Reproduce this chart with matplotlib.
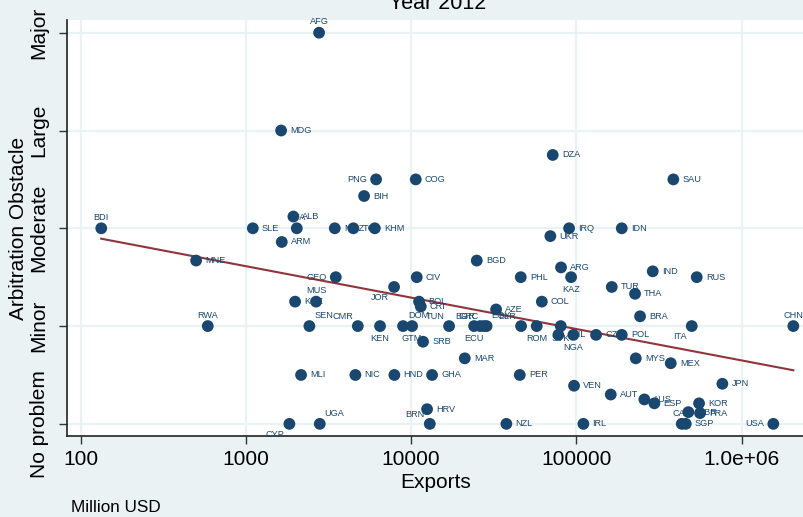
import numpy as np
import matplotlib
matplotlib.use("Agg")
import matplotlib.pyplot as plt

plt.rcParams['font.family'] = ['Liberation Sans', 'DejaVu Sans']

# Country codes, exports (million USD) and mean arbitration-obstacle score
codes = ["AFG", "MDG", "BDI", "SLE", "BFA", "ALB", "ARM", "PNG", "COG", "BIH",
         "MOZ", "TCD", "KHM", "DZA", "SAU", "IRQ", "IDN", "UKR", "MNE", "RWA",
         "GEO", "KGZ", "MUS", "SEN", "CMR", "KEN", "DOM", "GTM", "TUN", "ECU",
         "BGR", "GRC", "EGY", "BLR", "ROM", "SVK", "CHL", "NGA", "CZE", "POL",
         "ITA", "CHN", "ARG", "KAZ", "IND", "RUS", "TUR", "THA", "COL", "BRA",
         "MYS", "MEX", "JPN", "VEN", "AUT", "AUS", "ESP", "KOR", "GBR", "FRA",
         "CAN", "SGP", "USA", "IRL", "BGD", "CIV", "PHL", "JOR", "BOL", "CRI",
         "AZE", "MAR", "SRB", "MLI", "NIC", "HND", "GHA", "PER", "HRV", "BRN",
         "UGA", "NZL", "CYP"]

exports = [2770, 1632, 133, 1100, 2030, 1936, 1647, 6131, 10660, 5188,
           3447, 4467, 6021, 71940, 386500, 90360, 188300, 69600, 499, 587,
           3496, 1983, 2657, 2420, 4752, 6480, 8932, 10130, 16960, 24040,
           26140, 27600, 28600, 46270, 57540, 80430, 77800, 95900, 131600, 188300,
           499500, 2058000, 80770, 92900, 290000, 535500, 163800, 226600, 61800, 243000,
           228900, 372700, 765300, 96830, 161500, 258000, 296700, 553000, 476400, 560800,
           434500, 459400, 1557000, 110300, 24950, 10810, 46070, 7879, 11160, 11430,
           32660, 21110, 11800, 2155, 4594, 7912, 13380, 45440, 12480, 12960,
           2797, 37700, 1831]

obstacle = [5.0, 4.0, 3.0, 3.0, 3.0, 3.12, 2.86, 3.5, 3.5, 3.33,
            3.0, 3.0, 3.0, 3.75, 3.5, 3.0, 3.0, 2.92, 2.67, 2.0,
            2.5, 2.25, 2.25, 2.0, 2.0, 2.0, 2.0, 2.0, 2.0, 2.0,
            2.0, 2.0, 2.0, 2.0, 2.0, 2.0, 1.91, 1.91, 1.91, 1.91,
            2.0, 2.0, 2.6, 2.5, 2.56, 2.5, 2.4, 2.33, 2.25, 2.1,
            1.67, 1.62, 1.41, 1.39, 1.3, 1.25, 1.21, 1.21, 1.12, 1.11,
            1.0, 1.0, 1.0, 1.0, 2.67, 2.5, 2.5, 2.4, 2.25, 2.2,
            2.17, 1.67, 1.84, 1.5, 1.5, 1.5, 1.5, 1.5, 1.15, 1.0,
            1.0, 1.0, 1.0]

# Label placement as clock positions (default 3 o'clock)
label_pos = {"AFG": 12, "BDI": 12, "RWA": 12, "BFA": 12, "MUS": 12, "CAN": 12,
             "CHN": 12, "PNG": 9, "GEO": 9, "USA": 9, "KAZ": 6, "KEN": 6,
             "ECU": 6, "ROM": 6, "SVK": 6, "NGA": 6, "GTM": 6, "JOR": 7,
             "CYP": 7, "ITA": 7, "CMR": 11, "TUN": 11, "BGR": 11, "GRC": 11,
             "BLR": 11, "BRN": 11, "SEN": 1, "DOM": 1, "EGY": 1, "UGA": 1}

level_names = ["No problem", "Minor", "Moderate", "Large", "Major"]
level_values = [1, 2, 3, 4, 5]
x_ticks = [100, 1000, 10000, 100000, 1000000]
x_tick_labels = ["100", "1000", "10000", "100000", "1.0e+06"]

navy = "#1A476F"
maroon = "#90353B"
bg = "#EAF2F3"

fig = plt.figure(figsize=(8.04, 5.17), dpi=100, facecolor=bg)
ax = fig.add_axes([0.083, 0.1567, 0.917, 0.8046])
ax.set_facecolor("white")

ax.set_xscale("log")
ax.set_xlim(82.2, 2.388e6)
ax.set_ylim(0.876, 5.13)

ax.grid(True, which="major", color=bg, linewidth=1.6, zorder=0)
ax.minorticks_off()

x = np.array(exports, dtype=float)
y = np.array(obstacle, dtype=float)

# Linear fit of the score on log exports
slope, intercept = np.polyfit(np.log10(x), y, 1)
xf = np.array([x.min(), x.max()])
ax.plot(xf, intercept + slope * np.log10(xf), color=maroon, linewidth=1.5, zorder=3)

ax.scatter(x, y, s=72, color=navy, edgecolors="none", zorder=4)

offsets = {
    3: ((6.5, 0), "left", "center"),
    9: ((-6.5, 0), "right", "center"),
    12: ((0, 6.0), "center", "baseline"),
    6: ((0, -9.0), "center", "center"),
    1: ((3.5, 7.5), "left", "center"),
    11: ((-3.5, 7.0), "right", "center"),
    7: ((-3.5, -7.5), "right", "center"),
}
for c, xv, yv in zip(codes, x, y):
    (dx, dy), ha, va = offsets[label_pos.get(c, 3)]
    ax.annotate(c, (xv, yv), xytext=(dx, dy), textcoords="offset points",
                ha=ha, va=va, fontsize=6.6, color=navy, zorder=5)

ax.set_xticks(x_ticks)
ax.set_xticklabels(x_tick_labels)
ax.set_yticks(level_values)
ax.set_yticklabels(level_names, rotation=90, va="center")

ax.tick_params(axis="both", length=6, width=1.0, color="#333333",
               labelsize=15, labelcolor="black")
ax.tick_params(axis="x", pad=4)
ax.tick_params(axis="y", pad=7)

for s in ["top", "right"]:
    ax.spines[s].set_visible(False)
for s in ["left", "bottom"]:
    ax.spines[s].set_color("#222222")
    ax.spines[s].set_linewidth(1.2)

ax.set_xlabel("Exports", fontsize=15, labelpad=3)
ax.set_ylabel("Arbitration Obstacle", fontsize=15, labelpad=1)

fig.text(438 / 804, 1 - 9 / 517, "Year 2012", ha="center", va="baseline",
         fontsize=15.5)
fig.text(71 / 804, 1 - 508 / 517, "Million USD", ha="left", va="center",
         fontsize=12.3)

fig.savefig("out.png", dpi=100, facecolor=bg)
